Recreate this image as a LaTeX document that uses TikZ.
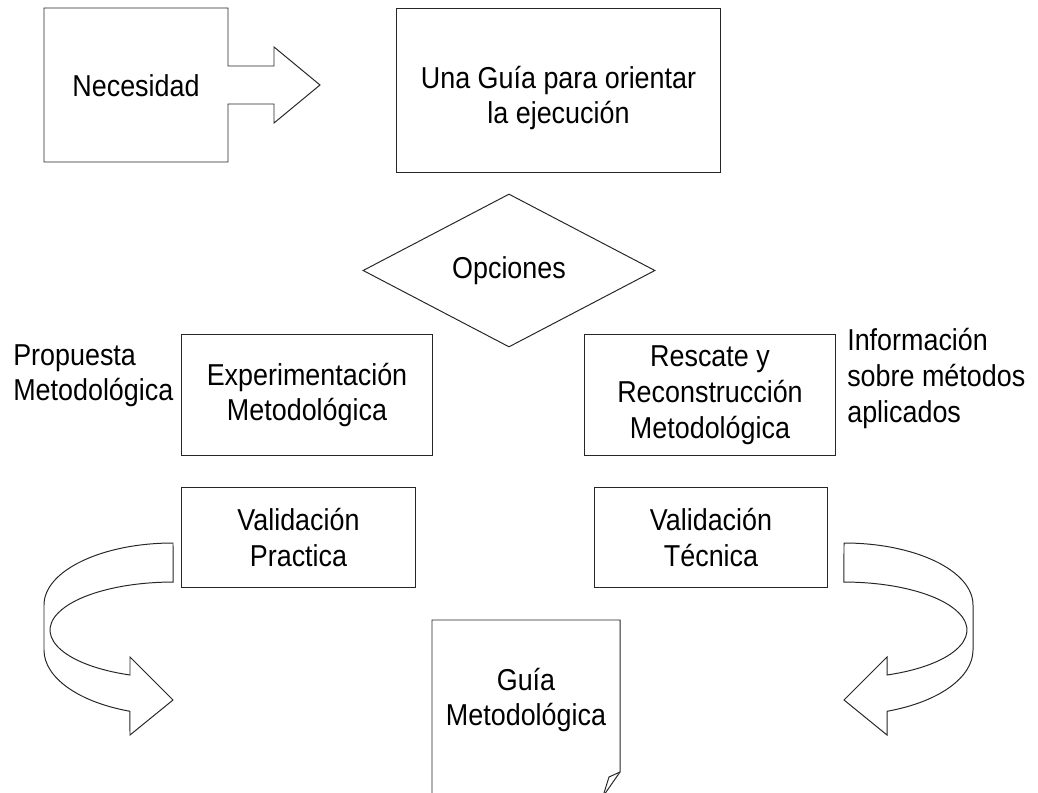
\documentclass[tikz,border=0pt]{standalone}
\usepackage{fontspec}
\setmainfont{Liberation Sans}[FakeStretch=0.89]
\usetikzlibrary{shapes.geometric}
\tikzset{
	outline/.style={draw=black!85, line width=0.7pt, line join=miter},
	box/.style={rectangle, draw=black!85, line width=0.7pt, align=center, inner sep=0pt},
	choice/.style={diamond, draw=black!85, line width=0.7pt, align=center, inner sep=0pt, minimum width=7.3cm, minimum height=3.825cm},
	plain/.style={align=center, inner sep=0pt},
	side/.style={align=left, inner sep=0pt, anchor=north west},
}

\begin{document}
\begin{tikzpicture}[x=0.025cm, y=-0.025cm, font=\fontsize{21.5pt}{25.5pt}\selectfont]
	\useasboundingbox (0,0) rectangle (1038,793);
	% top row
	\draw[outline] (44,8) -- (228,8) -- (228,66) -- (274,66) -- (274,47) -- (320,85)
		-- (274,123) -- (274,104) -- (228,104) -- (228,162) -- (44,162) -- cycle;
	\node[plain] (nec) at (136,86) {Necesidad};
	\node[box, minimum width=8.075cm, minimum height=4.075cm] (guia) at (558.5,90.5) {};
	\node[plain] (guiat) at (558.5,98) {Una Guía para orientar\\la ejecución};
	% options
	\node[choice] (opc) at (509,270.5) {Opciones};
	\node[box, minimum width=6.25cm, minimum height=3cm] (exp) at (307,395) {Experimentación\\Metodológica};
	\node[box, minimum width=6.25cm, minimum height=3cm] (resc) at (710,395) {Rescate y\\Reconstrucción\\Metodológica};
	\node[side] (prop) at (13,344) {Propuesta\\Metodológica};
	\node[side] (info) at (847,328) {Información\\sobre métodos\\aplicados};
	% validation
	\node[box, minimum width=5.825cm, minimum height=2.475cm] (valp) at (298.5,537.5) {Validación\\Practica};
	\node[box, minimum width=5.8cm, minimum height=2.475cm] (valt) at (711,537.5) {Validación\\Técnica};
	% curved arrows
	\draw[outline] (173,543) arc[start angle=270, end angle=180, x radius=129, y radius=62]
		-- (44,650) arc[start angle=180, end angle=109.5, x radius=129, y radius=65]
		-- (130,735) -- (173,700) -- (130,657) -- (130,675)
		arc[start angle=110.5, end angle=270, x radius=123, y radius=48] -- cycle;
	\draw[outline] (844,543) arc[start angle=270, end angle=360, x radius=129, y radius=62]
		-- (973,650) arc[start angle=0, end angle=70.5, x radius=129, y radius=65]
		-- (887,735) -- (844,700) -- (887,657) -- (887,675)
		arc[start angle=69.5, end angle=-90, x radius=123, y radius=48] -- cycle;
	% result
	\draw[outline] (432,795) -- (432,620) -- (620,620) -- (620,772) -- (604,795);
	\draw[outline] (620,772) -- (609,777) -- (604,793);
	\node[plain] (guiam) at (526,700) {Guía\\Metodológica};
\end{tikzpicture}
\end{document}
